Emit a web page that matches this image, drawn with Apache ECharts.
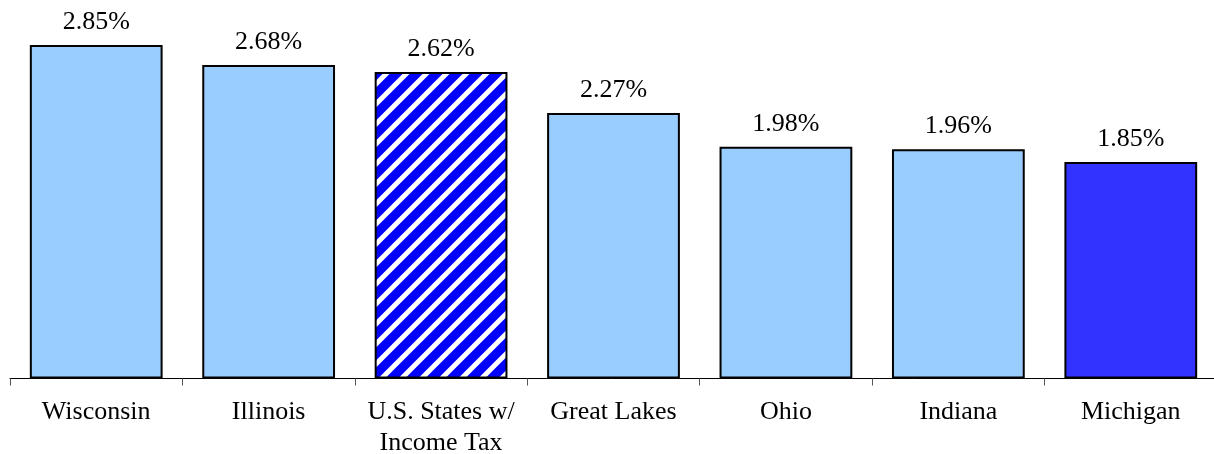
<!DOCTYPE html>
<html>
<head>
<meta charset="utf-8">
<script src="https://cdn.jsdelivr.net/npm/echarts@6/dist/echarts.min.js"></script>
<style>
  html, body { margin: 0; padding: 0; background: #fff; }
  #chart { width: 1214px; height: 454px; }
</style>
</head>
<body>
<div id="chart"></div>
<script>
const categories = ['Wisconsin', 'Illinois', 'U.S. States w/\nIncome Tax', 'Great Lakes', 'Ohio', 'Indiana', 'Michigan'];
const values = [2.85, 2.68, 2.62, 2.27, 1.98, 1.96, 1.85];

// diagonal stripe tile for the U.S. average bar
const makeStripes = () => {
  const s = 20;
  const c = document.createElement('canvas');
  c.width = s;
  c.height = s;
  const ctx = c.getContext('2d');
  ctx.fillStyle = '#0000ff';
  ctx.fillRect(0, 0, s, s);
  ctx.strokeStyle = '#ffffff';
  ctx.lineWidth = 5;
  ctx.beginPath();
  ctx.moveTo(-s / 2, s / 2); ctx.lineTo(s / 2, -s / 2);
  ctx.moveTo(0, s); ctx.lineTo(s, 0);
  ctx.moveTo(s / 2, s * 1.5); ctx.lineTo(s * 1.5, s / 2);
  ctx.stroke();
  return c;
};

const barColor = (name) => {
  if (name === 'Michigan') return '#3333ff';
  if (name.indexOf('U.S.') === 0) return { image: makeStripes(), repeat: 'repeat' };
  return '#99ccff';
};

const chart = echarts.init(document.getElementById('chart'));
chart.setOption({
  animation: false,
  textStyle: { fontFamily: 'Liberation Serif' },
  grid: { left: 10, width: 1207, top: 27.5, height: 351, outerBoundsMode: 'none', containLabel: false },
  xAxis: {
    type: 'category',
    data: categories,
    axisLine: { lineStyle: { color: '#000', width: 1 } },
    axisTick: { show: true, interval: 0, length: 7, lineStyle: { color: '#555' } },
    axisLabel: { interval: 0, color: '#000', fontSize: 26, lineHeight: 31, margin: 18, fontFamily: 'Liberation Serif' },
  },
  yAxis: {
    type: 'value',
    min: 0,
    max: 3,
    show: false,
  },
  series: [
    {
      type: 'bar',
      barWidth: '77%',
      data: values.map((v, i) => ({
        value: v,
        itemStyle: { color: barColor(categories[i]) },
      })),
      itemStyle: { borderColor: '#000', borderWidth: 2 },
      label: {
        show: true,
        position: 'top',
        distance: 10,
        color: '#000',
        fontSize: 26,
        fontFamily: 'Liberation Serif',
        formatter: (p) => p.value.toFixed(2) + '%',
      },
    },
  ],
});
</script>
</body>
</html>
